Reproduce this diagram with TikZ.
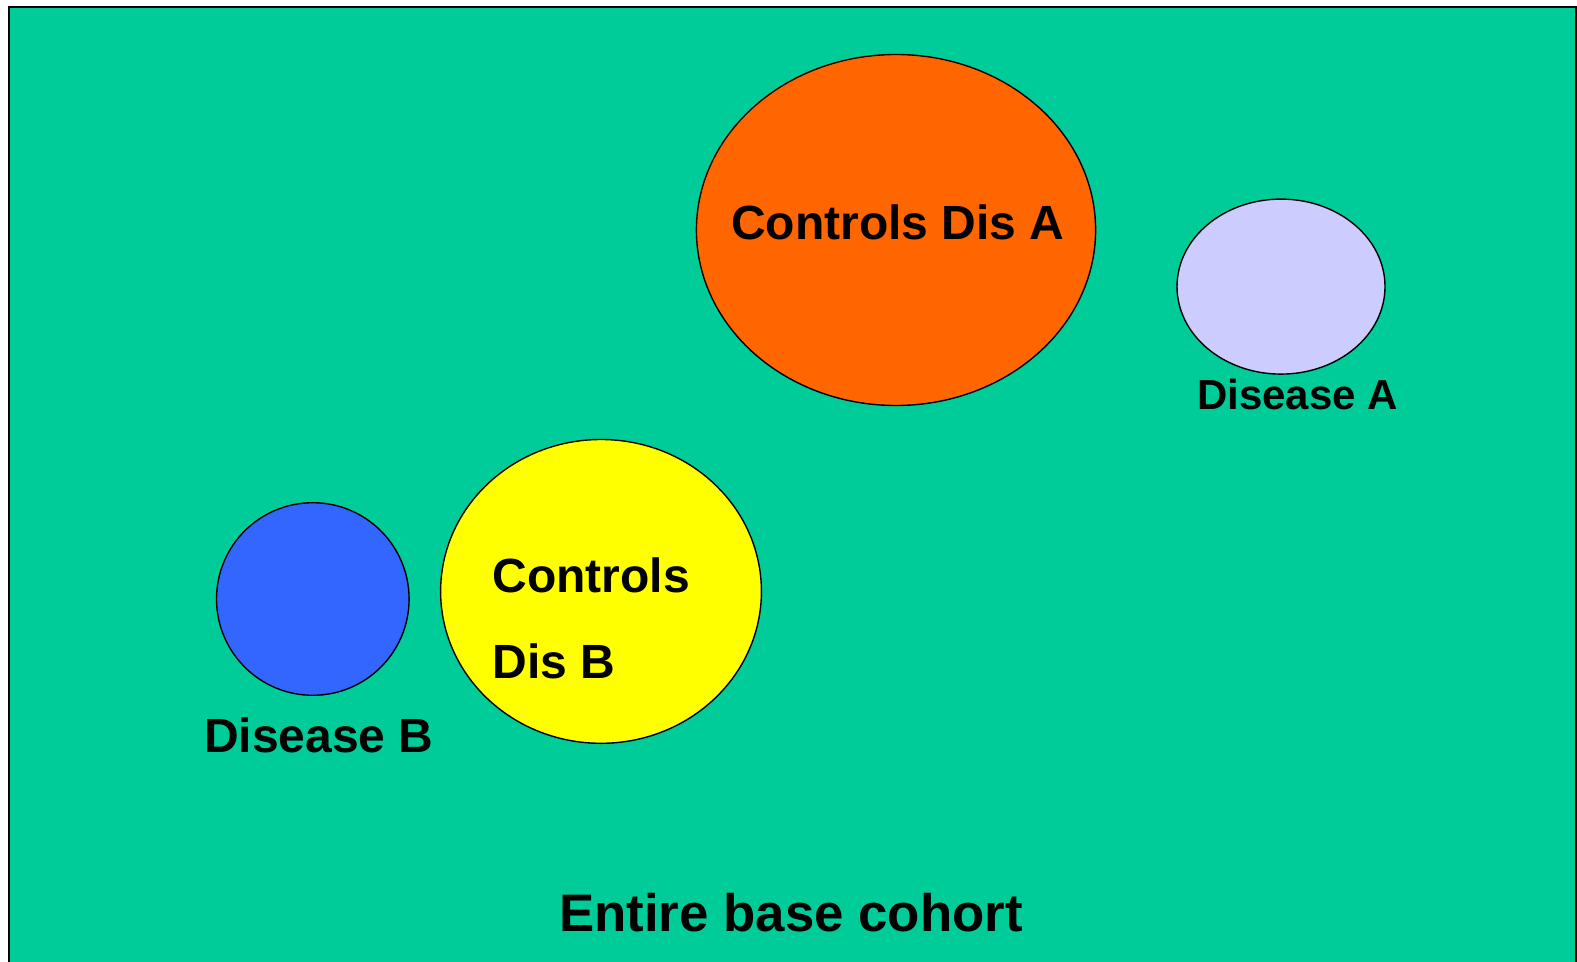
\documentclass[tikz,border=0pt]{standalone}
\usepackage{fontspec}
\setmainfont{Liberation Sans}
\definecolor{cohort}{HTML}{00CC99}
\definecolor{ctrlA}{HTML}{FF6600}
\definecolor{disA}{HTML}{CCCCFF}
\definecolor{disB}{HTML}{3366FF}
\definecolor{ctrlB}{HTML}{FFFF00}
\begin{document}
\begin{tikzpicture}[x=0.5pt,y=-0.5pt,
  blob/.style={draw=black,line width=0.7pt},
  lbl/.style={font=\fontsize{24}{28}\selectfont\bfseries,inner sep=0pt},
  lblsmall/.style={font=\fontsize{21}{25}\selectfont\bfseries,inner sep=0pt},
  lblbig/.style={font=\fontsize{26.4}{30}\selectfont\bfseries,inner sep=0pt}]
\useasboundingbox (0,0) rectangle (1577,962);
\clip (0,0) rectangle (1577,962);
% whole cohort
\draw[fill=cohort,draw=black,line width=1pt] (9,7) rectangle (1576,980);
% groups
\draw[blob,fill=ctrlA] (896,230) ellipse [x radius=199.6,y radius=175.5];
\draw[blob,fill=disA] (1281,286.6) ellipse [x radius=104,y radius=87.5];
\draw[blob,fill=disB] (312.8,599) ellipse [x radius=96.3,y radius=96.3];
\draw[blob,fill=ctrlB] (601,591.4) ellipse [x radius=160.4,y radius=151.9];
% labels
\node[lbl,anchor=base] (tca) at (898,239.4) {Controls Dis A};
\node[lblsmall,anchor=base] (tda) at (1297.5,409.8) {Disease A};
\node[lbl,anchor=base] (tdb) at (318.9,752.3) {Disease B};
\node[lbl,anchor=base west] (tcb1) at (492,592.4) {Controls};
\node[lbl,anchor=base west] (tcb2) at (492,678.4) {Dis B};
\node[lblbig,anchor=base] (tall) at (791,931.3) {Entire base cohort};
\end{tikzpicture}
\end{document}
